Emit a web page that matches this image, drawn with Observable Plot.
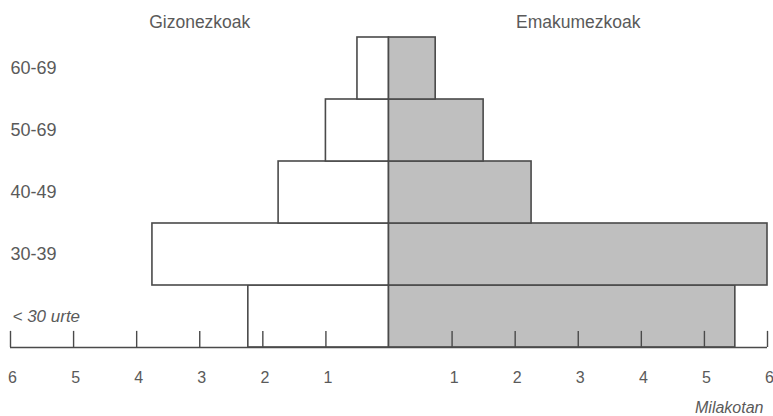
<!DOCTYPE html>
<html>
<head>
<meta charset="utf-8">
<script src="https://cdn.jsdelivr.net/npm/d3@7"></script>
<script src="https://cdn.jsdelivr.net/npm/@observablehq/plot@0.6"></script>
<style>
  html, body { margin: 0; padding: 0; background: #fff; }
  #chart svg { display: block; }
</style>
</head>
<body>
<div id="chart"></div>
<script>
// Data (thousands, "Milakotan")
const ageGroups = ["< 30 urte", "30-39", "40-49", "50-69", "60-69"];
const men   = [2.23, 3.75, 1.75, 1.0, 0.5];
const women = [5.49, 6.0, 2.26, 1.5, 0.74];
const xTicks = [-6, -5, -4, -3, -2, -1, 1, 2, 3, 4, 5, 6];
const sideTitles = [{x: -3, label: "Gizonezkoak"}, {x: 3, label: "Emakumezkoak"}];
const unitLabel = "Milakotan";

const rows = ageGroups.map((g, i) => ({g, i, men: men[i], women: women[i]}));

const ink = "#4a4a4a";
const textColor = "#5a5a5a";

const chart = Plot.plot({
  width: 773,
  height: 416,
  margin: 0,
  style: {fontFamily: "'Liberation Sans', Arial, Helvetica, sans-serif", color: textColor, background: "#fff"},
  x: {domain: [-6, 6], range: [10, 767], axis: null},
  y: {domain: [0, 5], range: [347, 37], axis: null},
  marks: [
    Plot.rect(rows, {x1: 0, x2: d => -d.men, y1: d => d.i, y2: d => d.i + 1, fill: "white", stroke: ink, strokeWidth: 1.6}),
    Plot.rect(rows, {x1: 0, x2: d => d.women, y1: d => d.i, y2: d => d.i + 1, fill: "#bfbfbf", stroke: ink, strokeWidth: 1.6}),
    Plot.ruleY([0], {x1: -6, x2: 6, stroke: ink, strokeWidth: 1.6}),
    Plot.ruleX(xTicks, {x: d => d, y1: 0, y2: 0.26, stroke: ink, strokeWidth: 1.4}),
    Plot.text(xTicks, {x: d => d, y: 0, dy: 30, dx: 2, text: d => String(Math.abs(d)), fontSize: 16, fill: textColor}),
    Plot.text(rows.filter(d => d.i > 0), {x: -6, y: d => d.i + 0.5, text: "g", textAnchor: "start", fontSize: 18, fill: textColor}),
    Plot.text(rows.filter(d => d.i === 0), {x: -6, y: d => d.i + 0.5, text: "g", textAnchor: "start", fontSize: 17, fontStyle: "italic", dx: 2, fill: textColor}),
    Plot.text(sideTitles, {x: "x", y: 5, dy: -15, text: "label", fontSize: 17.5, fill: textColor}),
    Plot.text([unitLabel], {x: 6, y: 0, dy: 60, dx: -4, text: d => d, textAnchor: "end", fontSize: 16, fontStyle: "italic", fill: textColor})
  ]
});
document.getElementById("chart").appendChild(chart);
</script>
</body>
</html>
